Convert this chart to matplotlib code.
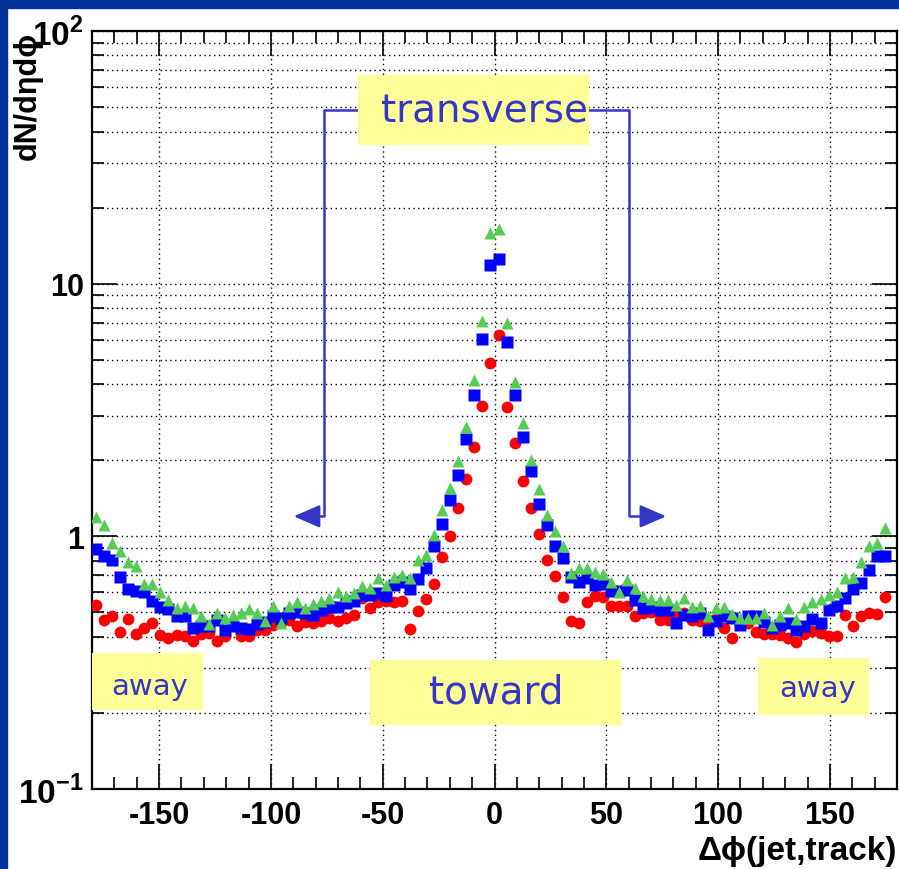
import numpy as np
import matplotlib
matplotlib.use("Agg")
import matplotlib.pyplot as plt
from matplotlib.ticker import MultipleLocator, LogLocator, FixedLocator, NullFormatter
from matplotlib.patches import Rectangle

# ---- data: 3.6 degree bins ----
dphi = -178.2 + 3.6 * np.arange(99)

green = [1.196, 1.108, 0.944, 0.875, 0.789, 0.763, 0.648, 0.646, 0.600, 0.560,
         0.520, 0.532, 0.520, 0.484, 0.449, 0.496, 0.474, 0.489, 0.499, 0.515,
         0.496, 0.464, 0.528, 0.453, 0.528, 0.548, 0.520, 0.538, 0.555, 0.569,
         0.600, 0.582, 0.595, 0.636, 0.627, 0.682, 0.642, 0.693, 0.703, 0.687,
         0.806, 0.847, 1.01, 1.27, 1.56, 1.98, 2.70, 4.17, 7.10, 15.9,
         16.4, 7.00, 4.08, 2.80, 2.00, 1.54, 1.21, 1.05, 0.915, 0.714,
         0.747, 0.747, 0.725, 0.708, 0.658, 0.604, 0.672, 0.623, 0.582, 0.565,
         0.560, 0.560, 0.535, 0.569, 0.527, 0.532, 0.482, 0.520, 0.523, 0.492,
         0.474, 0.477, 0.477, 0.496, 0.446, 0.486, 0.520, 0.471, 0.527, 0.548,
         0.565, 0.586, 0.600, 0.682, 0.693, 0.794, 0.919, 0.938, 1.082]

blue = [0.891, 0.836, 0.809, 0.689, 0.619, 0.610, 0.604, 0.555, 0.523, 0.516,
        0.486, 0.486, 0.435, 0.440, 0.440, 0.467, 0.424, 0.440, 0.433, 0.430,
        0.449, 0.460, 0.482, 0.474, 0.499, 0.504, 0.496, 0.489, 0.512, 0.523,
        0.527, 0.543, 0.555, 0.586, 0.586, 0.595, 0.582, 0.642, 0.662, 0.619,
        0.680, 0.747, 0.915, 1.12, 1.39, 1.75, 2.42, 3.62, 6.06, 11.9,
        12.5, 5.89, 3.62, 2.48, 1.82, 1.34, 1.108, 0.919, 0.820, 0.690,
        0.662, 0.682, 0.642, 0.650, 0.606, 0.610, 0.614, 0.560, 0.520, 0.527,
        0.512, 0.512, 0.453, 0.489, 0.485, 0.496, 0.426, 0.463, 0.482, 0.474,
        0.444, 0.482, 0.486, 0.460, 0.433, 0.446, 0.453, 0.426, 0.440, 0.471,
        0.453, 0.512, 0.532, 0.569, 0.619, 0.652, 0.736, 0.839, 0.839]

red = [0.535, 0.467, 0.486, 0.417, 0.471, 0.410, 0.435, 0.453, 0.407, 0.395,
       0.407, 0.405, 0.386, 0.410, 0.414, 0.386, 0.404, 0.445, 0.405, 0.402,
       0.427, 0.426, 0.446, 0.460, 0.467, 0.440, 0.460, 0.455, 0.463, 0.477,
       0.463, 0.474, 0.489, 0.569, 0.520, 0.548, 0.555, 0.548, 0.555, 0.430,
       0.507, 0.565, 0.646, 0.831, 1.006, 1.29, 1.68, 2.26, 3.28, 4.86,
       6.27, 3.25, 2.35, 1.66, 1.30, 1.02, 0.806, 0.697, 0.574, 0.464,
       0.453, 0.552, 0.578, 0.576, 0.532, 0.530, 0.530, 0.486, 0.497, 0.504,
       0.467, 0.467, 0.489, 0.497, 0.467, 0.463, 0.460, 0.471, 0.435, 0.395,
       0.450, 0.453, 0.417, 0.410, 0.410, 0.407, 0.395, 0.383, 0.410, 0.422,
       0.414, 0.402, 0.405, 0.489, 0.442, 0.484, 0.496, 0.492, 0.574]

xticks = [-150, -100, -50, 0, 50, 100, 150]
yticks = [0.1, 1, 10, 100]
ytick_labels = [r'$10^{-1}$', '1', '10', r'$10^{2}$']

# ---- style ----
plt.rcParams['mathtext.fontset'] = 'custom'
plt.rcParams['mathtext.rm'] = 'Liberation Sans:bold'
plt.rcParams['mathtext.bf'] = 'Liberation Sans:bold'
lab_font = ['Liberation Sans', 'DejaVu Sans']
txt_blue = '#3535c8'
yellow = '#ffff99'

fig = plt.figure(figsize=(8.99, 8.70), dpi=100)
fig.patches.append(Rectangle((0, 1 - 9 / 870), 1, 9 / 870, transform=fig.transFigure,
                             color='#003399', zorder=0))
fig.patches.append(Rectangle((0, 0), 7 / 899, 1, transform=fig.transFigure,
                             color='#003399', zorder=0))

ax = fig.add_axes([92 / 899, 1 - 790 / 870, 805 / 899, 758 / 870])
ax.set_yscale('log')
ax.set_xlim(-180, 180)
ax.set_ylim(0.1, 100)

ax.plot(dphi, red, 'o', color='#ff0000', ms=8.5, mec='none', zorder=3)
ax.plot(dphi, blue, 's', color='#0000ff', ms=8, mec='none', zorder=4)
ax.plot(dphi, green, '^', color='#55cc55', ms=8.5, mec='none', zorder=5)

# axes, ticks, grid
ax.xaxis.set_major_locator(FixedLocator(xticks))
ax.xaxis.set_minor_locator(MultipleLocator(10))
ax.yaxis.set_major_locator(FixedLocator(yticks))
ax.yaxis.set_minor_locator(LogLocator(base=10, subs=np.arange(2, 10)))
ax.yaxis.set_minor_formatter(NullFormatter())
ax.set_yticklabels(ytick_labels)
ax.set_xticklabels([str(v) for v in xticks])
ax.tick_params(which='both', direction='in', top=True, right=True, width=1.2)
ax.tick_params(which='major', length=18, labelsize=22, pad=8)
ax.tick_params(which='minor', length=8.5)
ax.tick_params(axis='y', which='major', pad=6)
for lab in ax.get_xticklabels() + ax.get_yticklabels():
    lab.set_family(lab_font)
    lab.set_fontweight('bold')
ax.get_yticklabels()[0].set_fontsize(24)
ax.get_yticklabels()[3].set_fontsize(24)
for s in ax.spines.values():
    s.set_linewidth(1.6)
ax.grid(True, which='major', axis='x', ls=(0, (1, 2.5)), color='k', lw=1)
ax.grid(True, which='both', axis='y', ls=(0, (1, 2.5)), color='k', lw=1)
ax.set_axisbelow(True)

# region labels
boxes = [(-61, 35.4, 42.2, 67), (-55.7, 0.179, 56.5, 0.3236),
         (-180, 0.205, -130.3, 0.345), (117.8, 0.196, 167.4, 0.33)]
for x0, y0, x1, y1 in boxes:
    ax.add_patch(Rectangle((x0, y0), x1 - x0, y1 - y0, facecolor=yellow,
                           edgecolor='none', zorder=6))
ax.text(-50.7, 48.3, 'transverse', color=txt_blue, fontsize=28, ha='left',
        va='center', zorder=7)
ax.text(0.7, 0.244, 'toward', color=txt_blue, fontsize=28, ha='center',
        va='center', zorder=7)
ax.text(-154, 0.255, 'away', color=txt_blue, fontsize=21, ha='center',
        va='center', zorder=7)
ax.text(144.6, 0.251, 'away', color=txt_blue, fontsize=21, ha='center',
        va='center', zorder=7)

# transverse arrows
ax.plot([-61, -76.2, -76.2, -84], [48.7, 48.7, 1.2, 1.2], color=txt_blue,
        lw=1.8, zorder=5)
ax.plot([42.2, 60.1, 60.1, 70], [48.7, 48.7, 1.2, 1.2], color=txt_blue,
        lw=1.8, zorder=5)
ax.annotate('', xy=(-91, 1.2), xytext=(-80, 1.2), zorder=5,
            arrowprops=dict(arrowstyle='-|>,head_length=0.8,head_width=0.35',
                            color=txt_blue, lw=1.8, mutation_scale=20))
ax.annotate('', xy=(78, 1.2), xytext=(67, 1.2), zorder=5,
            arrowprops=dict(arrowstyle='-|>,head_length=0.8,head_width=0.35',
                            color=txt_blue, lw=1.8, mutation_scale=20))

# axis titles
fig.text(28 / 899, 1 - 32 / 870, 'dN/dηdϕ', rotation=90, ha='center', va='top',
         fontsize=22, fontweight='bold', family=lab_font)
fig.text(897 / 899, 1 - 852 / 870, 'Δϕ(jet,track)', ha='right', va='center',
         fontsize=24, fontweight='bold', family=lab_font)

fig.savefig('out.png', dpi=100, facecolor='white')
